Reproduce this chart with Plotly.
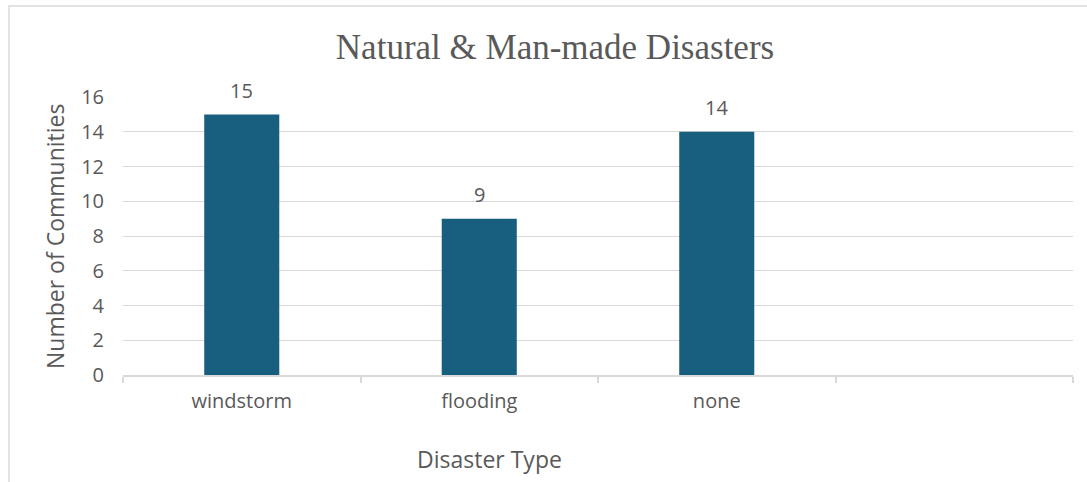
import plotly.graph_objects as go

# Disaster categories and number of communities reporting each
categories = ["windstorm", "flooding", "none", " "]
communities = [15, 9, 14, None]

y_ticks = [0, 2, 4, 6, 8, 10, 12, 14, 16]

BAR_COLOR = "#185E7F"
TEXT_COLOR = "#595959"
GRID_COLOR = "#D9D9D9"
SANS = "Open Sans, Liberation Sans, Arial, sans-serif"
SERIF = "Liberation Serif, Times New Roman, serif"

fig = go.Figure(
    go.Bar(
        x=categories,
        y=communities,
        width=0.316,
        marker=dict(color=BAR_COLOR, line=dict(width=0)),
        hoverinfo="x+y",
    )
)

# value labels above each bar
for cat, val in zip(categories, communities):
    if val is None:
        continue
    fig.add_annotation(
        x=cat, y=val, text=str(val), showarrow=False,
        yanchor="middle", yshift=24,
        font=dict(family=SANS, size=20, color=TEXT_COLOR),
    )

# axis titles
fig.add_annotation(
    xref="paper", yref="paper", x=-0.0716, y=0.5, text="Number of Communities",
    textangle=-90, showarrow=False, xanchor="center", yanchor="middle",
    font=dict(family=SANS, size=23, color=TEXT_COLOR),
)
fig.add_annotation(
    xref="paper", yref="paper", x=0.386, y=-0.302, text="Disaster Type",
    showarrow=False, xanchor="center", yanchor="middle",
    font=dict(family=SANS, size=23, color=TEXT_COLOR),
)

# chart-area frame
fig.add_shape(
    type="rect", xref="paper", yref="paper",
    x0=-0.12, x1=1.2, y0=-0.6, y1=1.327,
    line=dict(color=GRID_COLOR, width=1.5), layer="below",
)

fig.update_layout(
    width=1087, height=482,
    margin=dict(l=123, r=14, t=97, b=107),
    paper_bgcolor="white", plot_bgcolor="white",
    showlegend=False,
    title=dict(
        text="Natural &amp; Man-made Disasters",
        x=0.5106, xref="container", xanchor="center",
        y=1 - 47 / 482, yref="container", yanchor="middle",
        font=dict(family=SERIF, size=35, color=TEXT_COLOR),
    ),
    xaxis=dict(
        type="category", categoryorder="array", categoryarray=categories,
        range=[-0.5, 3.5],
        showline=True, linecolor=GRID_COLOR, linewidth=1.5,
        ticks="outside", tickson="boundaries", ticklen=6,
        tickcolor=GRID_COLOR, tickwidth=1.5,
        showgrid=False, zeroline=False,
        tickfont=dict(family=SANS, size=20, color=TEXT_COLOR),
        ticklabelstandoff=7,
    ),
    yaxis=dict(
        range=[0, 16], tickvals=y_ticks,
        showgrid=True, gridcolor=GRID_COLOR, gridwidth=1.3,
        zeroline=False, showline=False, ticks="",
        tickfont=dict(family=SANS, size=20, color=TEXT_COLOR),
        ticklabelstandoff=18,
    ),
)

fig.write_html("out.html")
